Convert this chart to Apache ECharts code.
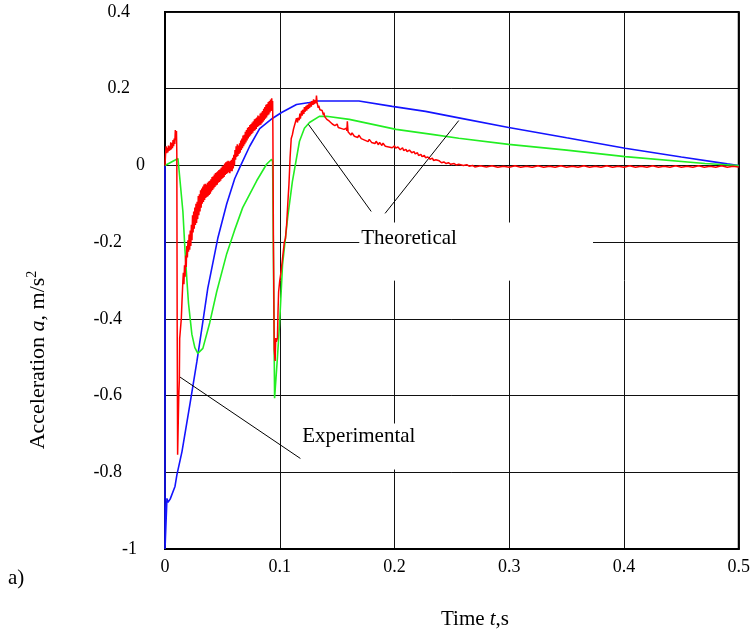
<!DOCTYPE html>
<html>
<head>
<meta charset="utf-8">
<script src="https://cdn.jsdelivr.net/npm/echarts@6/dist/echarts.min.js"></script>
<style>
html,body{margin:0;padding:0;background:#fff;}
#c{width:753px;height:632px;}
</style>
</head>
<body>
<div id="c"></div>
<script>
// Tick values
const xTicks = [0, 0.1, 0.2, 0.3, 0.4, 0.5];
const yTicks = [-1, -0.8, -0.6, -0.4, -0.2, 0, 0.2, 0.4];

// Theoretical curve 1 (blue): [t, a]
const theoBlue = [
  [0,0],[0,-1],[0.0017,-0.868],[0.0026,-0.878],[0.0045,-0.87],[0.0087,-0.837],[0.0104,-0.806],
  [0.0148,-0.746],[0.0217,-0.623],[0.0278,-0.511],[0.033,-0.407],[0.0373,-0.32],
  [0.046,-0.19],[0.0538,-0.10],[0.0608,-0.034],[0.066,0.0],[0.0738,0.05],[0.0825,0.096],
  [0.0938,0.123],[0.1016,0.138],[0.1146,0.159],[0.1259,0.164],[0.132,0.168],
  [0.169,0.168],[0.198,0.154],[0.227,0.141],[0.256,0.124],[0.2995,0.099],
  [0.35,0.072],[0.401,0.045],[0.45,0.022],[0.490,0.004],[0.5,0.0]
];

// Theoretical curve 2 (green): [t, a]
const theoGreen = [
  [0,0],[0.0113,0.018],[0.013,0.016],[0.0156,-0.12],[0.0174,-0.22],[0.0191,-0.30],
  [0.0205,-0.36],[0.0234,-0.44],[0.026,-0.475],[0.0286,-0.49],[0.033,-0.477],
  [0.039,-0.41],[0.045,-0.33],[0.0538,-0.23],[0.0605,-0.17],[0.0677,-0.11],
  [0.0799,-0.04],[0.0885,0.003],[0.0929,0.016],[0.0938,0.01],[0.0955,-0.607],
  [0.098,-0.50],[0.0998,-0.415],[0.1024,-0.26],[0.1068,-0.138],[0.111,-0.042],
  [0.1172,0.063],[0.1215,0.097],[0.1259,0.112],[0.1345,0.128],[0.1406,0.128],
  [0.1606,0.12],[0.2014,0.094],[0.2326,0.081],[0.256,0.071],[0.2995,0.055],
  [0.35,0.04],[0.401,0.023],[0.4705,0.005],[0.5,0.0]
];

// Experimental curve (red): [t, a]
const experRed = [
  [0,0],[0.0005,0.03],[0.001,0.05],[0.0015,0.032],[0.002,0.046],[0.0025,0.034],[0.003,0.052],
  [0.0035,0.038],[0.004,0.05],[0.0045,0.04],[0.005,0.06],[0.0055,0.042],[0.006,0.058],
  [0.0065,0.045],[0.007,0.066],[0.0075,0.05],[0.008,0.07],[0.0085,0.056],[0.009,0.092],
  [0.0095,0.066],[0.0100,0.09],[0.0103,0.03],[0.0106,-0.40],[0.0110,-0.754],[0.0115,-0.75],
  [0.0120,-0.60],[0.0125,-0.56],[0.0128,-0.451],[0.0138,-0.451],[0.0142,-0.40],[0.0148,-0.355],
  [0.0152,-0.36],[0.0156,-0.30],
  [0.016,-0.28],[0.0165,-0.31],[0.017,-0.26],[0.0175,-0.29],[0.018,-0.235],[0.0185,-0.265],
  [0.019,-0.21],[0.0195,-0.24],[0.020,-0.195],[0.0205,-0.225],[0.021,-0.18],[0.0215,-0.22],
  [0.022,-0.17],[0.0225,-0.21],[0.023,-0.155],[0.0235,-0.195],[0.024,-0.13],[0.0245,-0.175],
  [0.025,-0.12],[0.0255,-0.165],[0.026,-0.11],[0.0265,-0.155],[0.027,-0.10],[0.0275,-0.15],
  [0.028,-0.095],[0.0285,-0.14],[0.029,-0.08],[0.0295,-0.13],[0.030,-0.075],[0.0305,-0.12],
  [0.031,-0.065],[0.0315,-0.11],[0.032,-0.06],[0.0325,-0.10],[0.033,-0.055],[0.0335,-0.095],
  [0.034,-0.05],[0.0345,-0.09],[0.035,-0.048],[0.0355,-0.085],[0.036,-0.05],[0.0365,-0.082],
  [0.037,-0.045],[0.0375,-0.08],[0.038,-0.042],[0.0385,-0.077],[0.039,-0.04],[0.0395,-0.074],
  [0.040,-0.036],[0.0405,-0.068],[0.041,-0.03],[0.0415,-0.064],[0.042,-0.028],[0.0425,-0.06],
  [0.043,-0.024],[0.0435,-0.056],[0.044,-0.02],[0.0445,-0.052],[0.045,-0.018],[0.0455,-0.05],
  [0.046,-0.015],[0.0465,-0.045],[0.047,-0.012],[0.0475,-0.043],[0.048,-0.01],[0.0485,-0.04],
  [0.049,-0.006],[0.0495,-0.035],[0.050,-0.002],[0.0505,-0.033],[0.051,0.0],[0.0515,-0.03],
  [0.052,0.005],[0.0525,-0.025],[0.053,0.008],[0.0535,-0.022],[0.054,0.01],[0.0545,-0.02],
  [0.055,0.012],[0.0555,-0.018],[0.056,0.01],[0.0565,-0.02],[0.057,0.012],[0.0575,-0.015],
  [0.058,0.015],[0.0585,-0.015],[0.059,0.02],[0.0595,-0.008],[0.060,0.028],[0.0605,0.0],
  [0.061,0.04],[0.0615,0.015],[0.062,0.05],[0.0625,0.022],[0.063,0.055],[0.0635,0.025],
  [0.064,0.052],[0.0645,0.03],[0.065,0.058],[0.0655,0.033],[0.066,0.065],[0.0665,0.04],
  [0.067,0.07],[0.0675,0.045],[0.068,0.078],[0.0685,0.05],[0.069,0.08],[0.0695,0.055],
  [0.070,0.088],[0.0705,0.06],[0.071,0.092],[0.0715,0.065],[0.072,0.098],[0.0725,0.07],
  [0.073,0.1],[0.0735,0.075],[0.074,0.105],[0.0745,0.078],[0.075,0.108],[0.0755,0.082],
  [0.076,0.112],[0.0765,0.085],[0.077,0.115],[0.0775,0.09],[0.078,0.12],[0.0785,0.092],
  [0.079,0.122],[0.0795,0.095],[0.080,0.125],[0.0805,0.1],[0.081,0.13],[0.0815,0.102],
  [0.082,0.128],[0.0825,0.105],[0.083,0.135],[0.0835,0.106],[0.084,0.138],[0.0845,0.11],
  [0.085,0.142],[0.0855,0.114],[0.086,0.148],[0.0865,0.118],[0.087,0.152],[0.0875,0.122],
  [0.088,0.158],[0.0885,0.125],[0.089,0.16],[0.0895,0.13],[0.090,0.165],[0.0905,0.133],
  [0.091,0.168],[0.0915,0.138],[0.092,0.172],[0.0925,0.142],[0.093,0.175],[0.0935,0.148],
  [0.0938,0.168],[0.0940,0.10],[0.0945,-0.2],[0.0952,-0.48],[0.096,-0.51],[0.0965,-0.45],
  [0.097,-0.46],[0.098,-0.45],[0.0985,-0.38],[0.099,-0.33],[0.1,-0.30],[0.101,-0.28],
  [0.1024,-0.243],[0.104,-0.20],[0.105,-0.19],[0.106,-0.154],[0.107,-0.10],[0.108,-0.05],
  [0.1085,-0.016],[0.109,0.02],[0.110,0.07],[0.111,0.08],[0.112,0.095],[0.113,0.10],
  [0.1146,0.123],[0.1155,0.112],[0.116,0.125],[0.117,0.118],[0.1175,0.135],[0.118,0.122],
  [0.119,0.142],[0.1195,0.13],[0.120,0.145],[0.121,0.134],[0.1215,0.152],[0.122,0.14],
  [0.123,0.155],[0.1235,0.143],[0.124,0.158],[0.125,0.147],[0.1255,0.162],[0.126,0.15],
  [0.127,0.165],[0.1275,0.153],[0.128,0.168],[0.129,0.158],[0.1295,0.172],[0.130,0.16],
  [0.131,0.17],[0.1315,0.162],[0.132,0.182],[0.1325,0.165],[0.133,0.16],[0.1335,0.15],
  [0.134,0.156],[0.135,0.145],[0.1355,0.15],[0.136,0.14],[0.137,0.143],[0.138,0.132],
  [0.1385,0.138],[0.139,0.128],[0.1406,0.13],[0.141,0.12],[0.142,0.124],[0.143,0.116],
  [0.144,0.12],[0.1458,0.108],[0.147,0.112],[0.148,0.104],[0.150,0.108],[0.151,0.099],
  [0.152,0.104],[0.154,0.096],[0.155,0.1],[0.156,0.094],[0.158,0.097],[0.1585,0.09],
  [0.1589,0.115],[0.1595,0.088],[0.1606,0.085],[0.162,0.079],[0.163,0.085],[0.165,0.076],
  [0.166,0.081],[0.168,0.073],[0.169,0.079],[0.171,0.07],[0.172,0.075],[0.174,0.066],
  [0.1753,0.071],[0.177,0.062],[0.178,0.068],[0.18,0.06],[0.181,0.065],[0.183,0.057],
  [0.184,0.063],[0.186,0.054],[0.187,0.06],[0.189,0.052],[0.19,0.058],[0.192,0.05],
  [0.193,0.055],[0.195,0.048],[0.196,0.053],[0.198,0.046],[0.2,0.051],[0.201,0.045],
  [0.203,0.048],[0.205,0.041],[0.207,0.046],[0.208,0.039],[0.21,0.042],[0.211,0.036],
  [0.213,0.04],[0.215,0.033],[0.217,0.036],[0.218,0.03],[0.22,0.033],[0.221,0.026],
  [0.223,0.029],[0.224,0.023],[0.226,0.026],[0.227,0.02],[0.229,0.022],[0.231,0.016],
  [0.233,0.019],[0.234,0.013],[0.236,0.015],[0.237,0.01],[0.239,0.012],[0.241,0.007],
  [0.243,0.009],[0.245,0.005],[0.247,0.007],[0.249,0.003],[0.252,0.005],[0.254,0.001],
  [0.256,0.003],[0.26,0.0],[0.263,0.002],[0.265,-0.002],[0.268,0.0],[0.27,-0.004],
  [0.275,-0.001],[0.28,-0.004],[0.285,-0.001],[0.29,-0.005],[0.295,-0.002],[0.30,-0.005],
  [0.305,-0.001],[0.31,-0.005],[0.315,-0.002],[0.32,-0.005],[0.325,-0.001],[0.33,-0.005],
  [0.335,-0.002],[0.34,-0.005],[0.345,-0.001],[0.35,-0.005],[0.355,-0.002],[0.36,-0.005],
  [0.365,-0.001],[0.37,-0.005],[0.375,-0.002],[0.38,-0.005],[0.385,-0.001],[0.39,-0.005],
  [0.395,-0.002],[0.40,-0.005],[0.405,-0.001],[0.41,-0.005],[0.415,-0.002],[0.42,-0.005],
  [0.425,-0.001],[0.43,-0.005],[0.435,-0.002],[0.44,-0.005],[0.445,-0.001],[0.45,-0.005],
  [0.455,-0.002],[0.46,-0.005],[0.465,-0.001],[0.47,-0.005],[0.475,-0.002],[0.48,-0.005],
  [0.485,-0.001],[0.49,-0.005],[0.495,-0.002],[0.5,-0.004]
];

const chart = echarts.init(document.getElementById('c'), null, {renderer: 'canvas'});
const serif = '"Liberation Serif","Times New Roman",serif';

function yLabel(v) {
  const r = Math.round(v * 10) / 10;
  const s = String(r);
  if (r > 0) return '{p|' + s + '}';
  if (r === 0) return '{z|' + s + '}';
  if (r <= -1) return '{m|' + s + '}';
  return '{n|' + s + '}';
}

const option = {
  backgroundColor: '#fff',
  animation: false,
  grid: {left: 165, right: 12, top: 12, bottom: 83, show: true, borderColor: '#000', borderWidth: 2, backgroundColor: 'transparent'},
  xAxis: {
    type: 'value', min: xTicks[0], max: xTicks[xTicks.length - 1], interval: xTicks[1] - xTicks[0],
    axisLine: {show: true, onZero: false, lineStyle: {color: '#000', width: 2}},
    axisTick: {show: false},
    splitLine: {show: true, lineStyle: {color: '#111', width: 1}},
    axisLabel: {color: '#000', fontFamily: serif, fontSize: 18, margin: 9,
      formatter: v => String(Math.round(v * 10) / 10)}
  },
  yAxis: {
    type: 'value', min: yTicks[0], max: yTicks[yTicks.length - 1], interval: 0.2,
    axisLine: {show: true, onZero: false, lineStyle: {color: '#000', width: 2}},
    axisTick: {show: false},
    splitLine: {show: true, lineStyle: {color: '#111', width: 1}},
    axisLabel: {color: '#000', fontFamily: serif, fontSize: 18, margin: 20, align: 'right',
      formatter: yLabel,
      rich: {
        p: {fontFamily: serif, fontSize: 18, color: '#000', padding: [0, 15, 0, 0]},
        z: {fontFamily: serif, fontSize: 18, color: '#000', padding: [0, 0, 0, 0]},
        n: {fontFamily: serif, fontSize: 18, color: '#000', padding: [0, 23, 0, 0]},
        m: {fontFamily: serif, fontSize: 18, color: '#000', padding: [0, 8, 0, 0]}
      }}
  },
  series: [
    {
      name: 'annot', type: 'line', data: [], z: 1, silent: true,
      markArea: {
        silent: true,
        itemStyle: {color: '#fff', opacity: 1, borderWidth: 0},
        label: {show: true, color: '#000', fontFamily: serif, fontSize: 21, position: 'insideLeft'},
        data: [
          [{name: 'Theoretical', coord: [0.1693, -0.149], label: {offset: [0, -13], distance: 2}}, {coord: [0.373, -0.300]}],
          [{name: 'Experimental', coord: [0.117, -0.673], label: {offset: [0, -10], distance: 3}}, {coord: [0.247, -0.793]}]
        ]
      },
      markLine: {
        silent: true, symbol: ['none', 'none'],
        lineStyle: {color: '#000', width: 1, type: 'solid'},
        label: {show: false},
        data: [
          [{coord: [0.125, 0.107]}, {coord: [0.1797, -0.12]}],
          [{coord: [0.256, 0.117]}, {coord: [0.1918, -0.125]}],
          [{coord: [0.0122, -0.55]}, {coord: [0.118, -0.764]}]
        ]
      }
    },
    {name: 'Theoretical 1', type: 'line', data: theoBlue, showSymbol: false, z: 3,
      lineStyle: {color: '#1414ff', width: 1.6}, itemStyle: {color: '#1414ff'}},
    {name: 'Theoretical 2', type: 'line', data: theoGreen, showSymbol: false, z: 4,
      lineStyle: {color: '#22ee22', width: 1.6}, itemStyle: {color: '#22ee22'}},
    {name: 'Experimental', type: 'line', data: experRed, showSymbol: false, z: 5,
      lineStyle: {color: '#ff0000', width: 1.5}, itemStyle: {color: '#ff0000'}}
  ],
  graphic: [
    {type: 'text', x: 475, y: 619, style: {
      text: '{n|Time }{i|t}{n|,s}', fill: '#000', align: 'center', verticalAlign: 'middle',
      rich: {n: {fontFamily: serif, fontSize: 21, fill: '#000'}, i: {fontFamily: serif, fontSize: 21, fontStyle: 'italic', fill: '#000'}}
    }},
    {type: 'text', x: 38, y: 360, rotation: Math.PI / 2, style: {
      text: '{n|Acceleration }{i|a}{n|, m/s}{s|2}', fill: '#000', align: 'center', verticalAlign: 'middle',
      rich: {n: {fontFamily: serif, fontSize: 22, fill: '#000'}, i: {fontFamily: serif, fontSize: 22, fontStyle: 'italic', fill: '#000'},
             s: {fontFamily: serif, fontSize: 14, fill: '#000', padding: [0, 0, 11, 0]}}
    }},
    {type: 'text', x: 8, y: 568, style: {text: 'a)', fill: '#000', font: '21px ' + serif}}
  ]
};
chart.setOption(option);
</script>
</body>
</html>
